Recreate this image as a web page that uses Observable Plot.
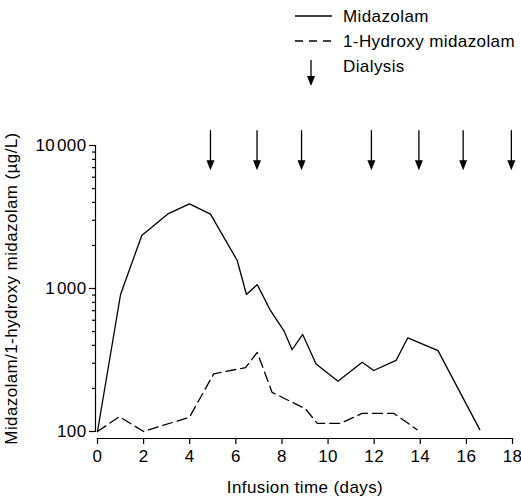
<!DOCTYPE html>
<html>
<head>
<meta charset="utf-8">
<script src="https://cdn.jsdelivr.net/npm/d3@7"></script>
<script src="https://cdn.jsdelivr.net/npm/@observablehq/plot@0.6"></script>
<style>
  body { margin: 0; background: #fff; font-family: "Liberation Sans", Arial, sans-serif; }
  #wrap { width: 521px; height: 499px; position: relative; }
  #legend { display: block; }
  svg text { letter-spacing: 0.4px; }
</style>
</head>
<body>
<div id="wrap"></div>
<script>
// ---- data ----
const midazolamDays = [0, 1.0, 1.92, 3.05, 3.99, 4.9, 6.06, 6.46, 6.93, 7.5, 8.08, 8.44, 8.9, 9.48, 10.43, 11.48, 11.98, 12.95, 13.46, 14.77, 16.58];
const midazolamConc = [100, 908, 2350, 3325, 3910, 3310, 1570, 908, 1065, 702, 508, 373, 477, 297, 225, 305, 267, 314, 452, 368, 103];
const hydroxyDays = [0, 0.95, 2.0, 3.99, 5.04, 6.42, 6.93, 7.57, 9.02, 9.53, 10.54, 11.48, 12.85, 13.86];
const hydroxyConc = [100, 127, 100, 126, 253, 280, 357, 188, 144, 114, 114, 134, 134, 103];
const dialysisDays = [4.9, 6.92, 8.85, 11.88, 13.94, 15.86, 17.95];
const xTicks = [0, 2, 4, 6, 8, 10, 12, 14, 16, 18];
const yTicks = [100, 1000, 10000];
const yTickLabels = ["100", "1\u200a000", "10\u200a000"];
const yMinorTicks = [200, 300, 400, 500, 600, 700, 800, 900, 2000, 3000, 4000, 5000, 6000, 7000, 8000, 9000];
const seriesNames = ["Midazolam", "1-Hydroxy midazolam", "Dialysis"];
const xLabel = "Infusion time (days)";
const yLabel = "Midazolam/1-hydroxy midazolam (\u00b5g/L)";

const midazolam = midazolamDays.map((d, i) => ({day: d, value: midazolamConc[i]}));
const hydroxy = hydroxyDays.map((d, i) => ({day: d, value: hydroxyConc[i]}));
const dialysis = dialysisDays.map(d => ({day: d}));

const FONT = "\"Liberation Sans\", Arial, sans-serif";
const FS = 17;

// ---- legend (above the plot) ----
const wrap = d3.select("#wrap");
const leg = wrap.append("svg").attr("id", "legend").attr("width", 521).attr("height", 100)
  .style("font-family", FONT).style("font-size", FS + "px");
const rows = [
  {name: seriesNames[0], y: 16, kind: "solid"},
  {name: seriesNames[1], y: 41, kind: "dashed"},
  {name: seriesNames[2], y: 66, kind: "arrow"}
];
rows.forEach(r => {
  if (r.kind === "arrow") {
    leg.append("line").attr("x1", 311).attr("x2", 311).attr("y1", 60).attr("y2", 78)
      .attr("stroke", "black").attr("stroke-width", 1.3);
    leg.append("path").attr("d", "M311,86L307,76L315,76Z").attr("fill", "black");
  } else {
    leg.append("line").attr("x1", 295).attr("x2", 332).attr("y1", r.y).attr("y2", r.y)
      .attr("stroke", "black").attr("stroke-width", 1.3)
      .attr("stroke-dasharray", r.kind === "dashed" ? "8,6" : null);
  }
  leg.append("text").attr("x", 343).attr("y", r.y + 6).text(r.name);
});

// custom downward arrow-head symbol (tip at origin)
const arrowHead = {
  draw(context) {
    context.moveTo(0, 0);
    context.lineTo(-4, -10);
    context.lineTo(4, -10);
    context.closePath();
  }
};

const chart = Plot.plot({
  width: 521,
  height: 399,
  marginLeft: 97,
  marginRight: 9,
  marginTop: 45,
  marginBottom: 68,
  style: {fontFamily: FONT, fontSize: FS + "px", color: "black", background: "white"},
  x: {domain: [0, 18]},
  y: {type: "log", domain: [100, 10000]},
  marks: [
    Plot.frame({anchor: "left", dx: -2, stroke: "black", strokeWidth: 1.2}),
    Plot.frame({anchor: "bottom", dy: 7, stroke: "black", strokeWidth: 1.2}),
    Plot.axisX({ticks: xTicks, tickSize: 6, tickPadding: 5, dy: 7, tickFormat: d => String(d),
      label: xLabel, labelAnchor: "center", labelArrow: "none", labelOffset: 61, strokeWidth: 1.2}),
    Plot.axisY({ticks: yTicks, tickSize: 6, tickPadding: 3, dx: -2,
      tickFormat: d => yTickLabels[yTicks.indexOf(d)],
      label: yLabel, labelAnchor: "center", labelArrow: "none", labelOffset: 93, strokeWidth: 1.2}),
    Plot.axisY({ticks: yMinorTicks, tickSize: 3, dx: -2, tickFormat: () => "", label: null, strokeWidth: 1.2}),
    Plot.line(midazolam, {x: "day", y: "value", stroke: "black", strokeWidth: 1.3}),
    Plot.line(hydroxy, {x: "day", y: "value", stroke: "black", strokeWidth: 1.3, strokeDasharray: "10,5"}),
    Plot.ruleX(dialysis, {x: "day", y1: 12700, y2: 7300, stroke: "black", strokeWidth: 1.3}),
    Plot.dot(dialysis, {x: "day", y: 6700, symbol: arrowHead, fill: "black", stroke: null, r: 4})
  ]
});
wrap.node().appendChild(chart);
</script>
</body>
</html>
